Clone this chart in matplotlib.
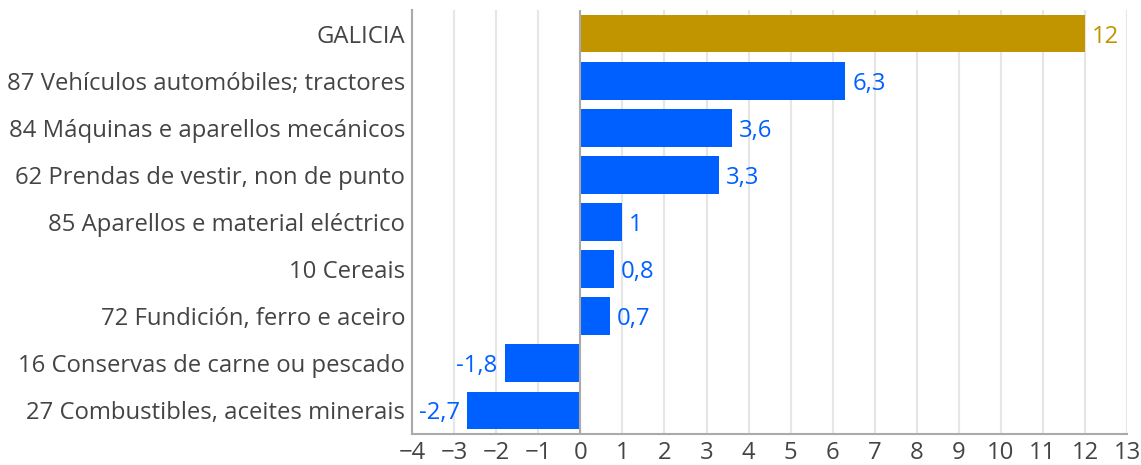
import matplotlib
matplotlib.use("Agg")
import matplotlib.pyplot as plt

categories = ["GALICIA",
              "87 Vehículos automóbiles; tractores",
              "84 Máquinas e aparellos mecánicos",
              "62 Prendas de vestir, non de punto",
              "85 Aparellos e material eléctrico",
              "10 Cereais",
              "72 Fundición, ferro e aceiro",
              "16 Conservas de carne ou pescado",
              "27 Combustibles, aceites minerais"]
values = [12, 6.3, 3.6, 3.3, 1, 0.8, 0.7, -1.8, -2.7]
x_ticks = list(range(-4, 14))

gold = "#C09500"
blue = "#0060FF"
colors = [gold] + [blue] * (len(values) - 1)

plt.rcParams["font.family"] = ["Open Sans", "DejaVu Sans"]
fs = 17.2

fig = plt.figure(figsize=(11.41, 4.65), dpi=100)
ax = fig.add_axes([0.3612, 0.0667, 0.6266, 0.9118])

pos = list(range(len(values)))
ax.barh(pos, values, height=0.8, color=colors, zorder=3)

for p, v, c in zip(pos, values, colors):
    txt = ("%g" % v).replace(".", ",")
    if v >= 0:
        ax.annotate(txt, (v, p), xytext=(5, 0), textcoords="offset points",
                    ha="left", va="center_baseline", color=c, fontsize=fs)
    else:
        ax.annotate(txt, (v, p), xytext=(-5, 0), textcoords="offset points",
                    ha="right", va="center_baseline", color=c, fontsize=fs)

ax.set_xlim(-4, 13)
ax.set_ylim(len(values) - 0.5, -0.5)
ax.set_xticks(x_ticks)
ax.set_xticklabels([("\u2212%d" % -t) if t < 0 else str(t) for t in x_ticks])
ax.set_yticks(pos)
ax.set_yticklabels(categories)
ax.tick_params(axis="both", length=0, labelsize=fs, labelcolor="#444444")
ax.tick_params(axis="x", pad=5)
ax.tick_params(axis="y", pad=5)

ax.grid(axis="x", color="#E6E6E6", linewidth=1.5, zorder=0)
ax.axvline(0, color="#AAAAAA", linewidth=1.5, zorder=4)
for s in ["top", "right"]:
    ax.spines[s].set_visible(False)
for s in ["left", "bottom"]:
    ax.spines[s].set_color("#AAAAAA")
    ax.spines[s].set_linewidth(1.5)

fig.savefig("out.png", dpi=100)
